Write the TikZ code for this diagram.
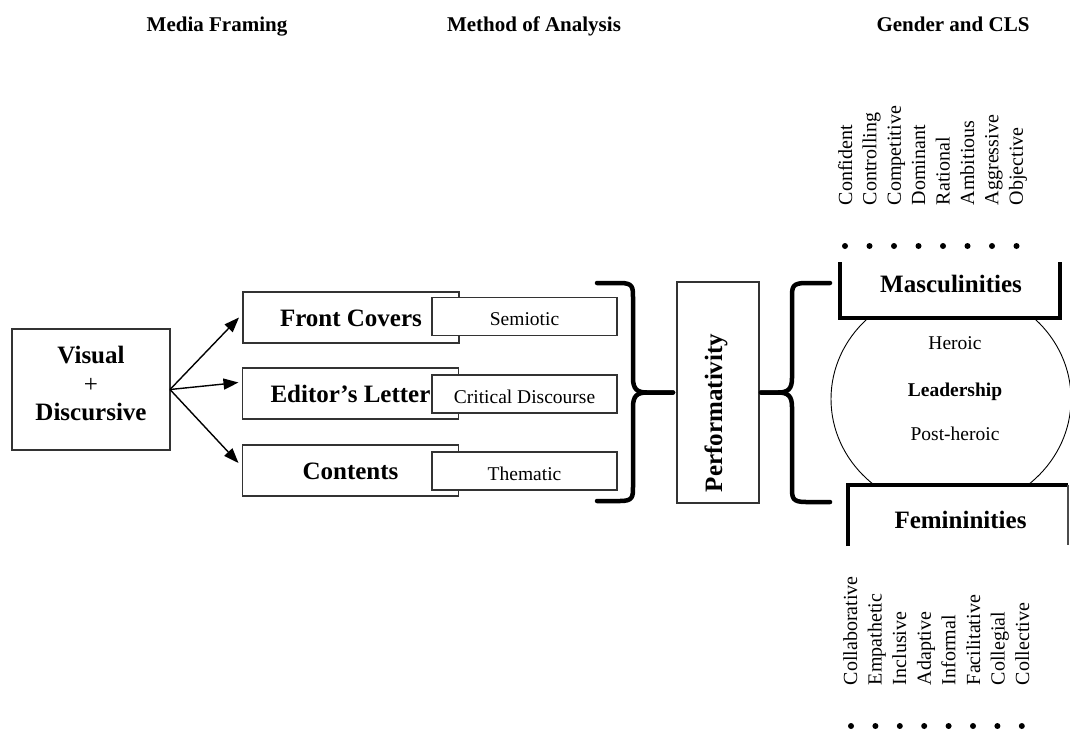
\documentclass[tikz,border=0pt]{standalone}
\usepackage{fontspec}
\setmainfont{Liberation Serif}
\usetikzlibrary{arrows.meta,calc}
\begin{document}
\begin{tikzpicture}[x=1pt,y=-1pt,
  every node/.style={inner sep=0pt, outer sep=0pt},
  head/.style={anchor=base, font=\fontsize{21}{25}\selectfont\bfseries},
  boxline/.style={draw=black!80, line width=1.2pt},
  mainbox/.style={boxline, fill=white, minimum width=216, minimum height=51,
    text height=18pt, text depth=0pt, font=\fontsize{25}{30}\selectfont\bfseries},
  subbox/.style={boxline, fill=white, minimum width=185, minimum height=38,
    text height=18pt, text depth=0pt, font=\fontsize{19.5}{23}\selectfont},
  bigbold/.style={anchor=base, font=\fontsize{25}{30}\selectfont\bfseries},
  plain/.style={anchor=base, font=\fontsize{19.5}{23}\selectfont},
  arrow/.style={line width=1.4pt, -{Triangle[length=15pt,width=11pt]}},
  brace/.style={line width=4.5pt, line cap=round, line join=round},
  genderline/.style={line width=3.8pt, line join=miter},
  trait/.style={rotate=90, anchor=base west, font=\fontsize{20}{24}\selectfont},
  dot/.style={circle, fill=black, minimum size=6pt},
  ]
\useasboundingbox (0,0) rectangle (1070,732);

% column headings
\node[head] (h1) at (217,31) {Media Framing};
\node[head] (h2) at (534,31) {Method of Analysis};
\node[head] (h3) at (953,31) {Gender and CLS};

% source box
\node[boxline, minimum width=158, minimum height=121] (vis) at (91,389.5) {};
\node[bigbold] (vis1) at (91,363) {Visual};
\node[anchor=base, font=\fontsize{25}{30}\selectfont] (vis2) at (91,392) {+};
\node[bigbold] (vis3) at (91,420) {Discursive};

% media texts and their methods
\node[mainbox] (front)    at (351,317.5) {Front Covers};
\node[mainbox] (editor)   at (350.5,393.5) {Editor’s Letter};
\node[mainbox] (contents) at (350.5,470.5) {Contents};
\node[subbox] (semiotic) at (524.5,316.5) {Semiotic};
\node[subbox] (critical) at (524.5,394) {Critical Discourse};
\node[subbox] (thematic) at (524.5,471) {Thematic};

\draw[arrow] (vis.east) -- ($(front.west)+(-4,0)$);
\draw[arrow] (vis.east) -- ($(editor.west)+(-4,-11)$);
\draw[arrow] (vis.east) -- ($(contents.west)+(-4,-7.5)$);

% performativity
\node[boxline, minimum width=82, minimum height=221] (perf) at (718,392.5) {};
\node[rotate=90, anchor=base west, font=\fontsize{25}{30}\selectfont\bfseries]
  (perftext) at (722,492) {Performativity};

% closing brace
\coordinate (b1tip) at ($(perf.west)+(-4,0)$);
\draw[brace] (597,283) -- (620,283) .. controls (633,283) and (633,287) .. (633,298)
  -- (633,378) .. controls (633,389) and (637,392.5) .. (647,392.5) -- (b1tip);
\draw[brace] (597,501) -- (620,501) .. controls (633,501) and (633,497) .. (633,486)
  -- (633,407) .. controls (633,396) and (637,392.5) .. (647,392.5) -- (b1tip);

% opening brace
\coordinate (b2tip) at ($(perf.east)+(2,0)$);
\draw[brace] (830,283) -- (806,283) .. controls (792,283) and (792,287) .. (792,298)
  -- (792,378) .. controls (792,389) and (788,392.5) .. (778,392.5) -- (b2tip);
\draw[brace] (830,502) -- (806,502) .. controls (792,502) and (792,498) .. (792,487)
  -- (792,407) .. controls (792,396) and (788,392.5) .. (778,392.5) -- (b2tip);

% leadership ellipse
\draw[line width=0.9pt] (951,399) ellipse [x radius=120, y radius=112];
\node[plain] (heroic) at (955,349) {Heroic};
\node[plain, font=\fontsize{19.5}{23}\selectfont\bfseries] (lead) at (955,396) {Leadership};
\node[plain] (post) at (955,440) {Post-heroic};

% masculinities box, open at the top
\fill[white] (840,262) rectangle (1060,318);
\draw[genderline] (840,262) -- (840,318) -- (1060,318) -- (1060,262);
\node[bigbold] (masc) at (951,292) {Masculinities};

% femininities box, open at the bottom
\fill[white] (848,485) rectangle (1068,546);
\draw[genderline] (848,546) -- (848,485) -- (1068,485);
\draw[line width=1.5pt, black!70] (1068,485) -- (1068,545);
\node[bigbold] (fem) at (960.5,528) {Femininities};

% masculine traits
\foreach \w [count=\i from 0] in {Confident,Controlling,Competitive,Dominant,Rational,Ambitious,Aggressive,Objective}{
  \node[trait] (m\i) at (852+24.4*\i,205) {\w};
  \node[dot] (md\i) at (845+24.5*\i,246) {};
}

% feminine traits
\foreach \w [count=\i from 0] in {Collaborative,Empathetic,Inclusive,Adaptive,Informal,Facilitative,Collegial,Collective}{
  \node[trait] (f\i) at (857+24.6*\i,685) {\w};
  \node[dot] (fd\i) at (851+24.4*\i,726) {};
}
\end{tikzpicture}
\end{document}
